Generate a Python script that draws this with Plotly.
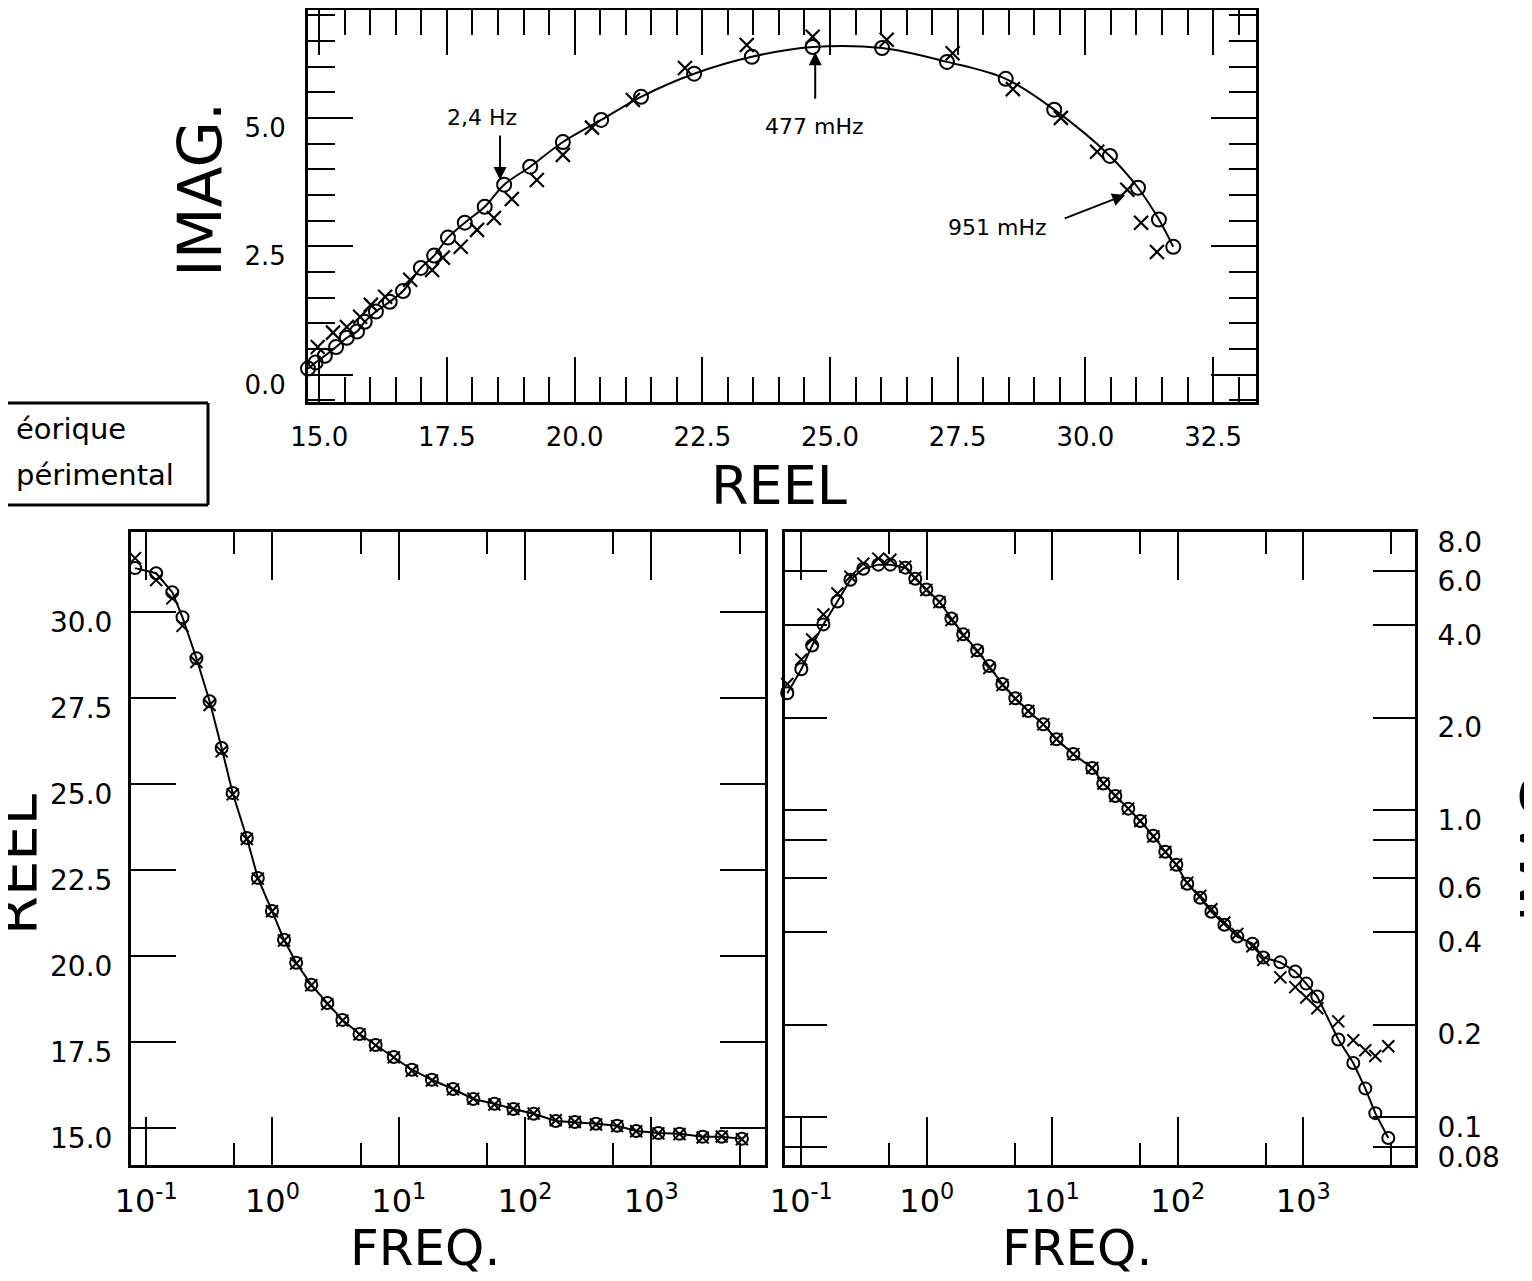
import plotly.graph_objects as go

# ---------------- data ----------------
# Top panel: Nyquist plot (REEL vs IMAG.)
re_nyq_theo = [14.78, 14.93, 15.11, 15.33, 15.54, 15.74, 15.89, 16.11, 16.38, 16.64, 16.99, 17.25,
               17.52, 17.85, 18.24, 18.62, 19.13, 19.77, 20.52, 21.30, 22.34, 23.47, 24.66, 26.02,
               27.29, 28.44, 29.39, 30.48, 31.03, 31.44, 31.72]
im_nyq_theo = [0.12, 0.24, 0.37, 0.54, 0.72, 0.84, 1.03, 1.23, 1.42, 1.63, 2.08, 2.32,
               2.67, 2.96, 3.27, 3.70, 4.05, 4.53, 4.96, 5.41, 5.86, 6.19, 6.38, 6.36,
               6.09, 5.76, 5.16, 4.26, 3.64, 3.02, 2.49]
re_nyq_exp = [14.97, 15.27, 15.54, 15.80, 16.01, 16.29, 16.78, 17.21, 17.42, 17.77, 18.09, 18.42,
              18.77, 19.26, 19.77, 20.34, 21.14, 22.16, 23.37, 24.66, 26.11, 27.40, 28.58, 29.52,
              30.23, 30.82, 31.09, 31.40]
im_nyq_exp = [0.54, 0.82, 0.93, 1.13, 1.36, 1.52, 1.85, 2.04, 2.28, 2.49, 2.82, 3.05,
              3.42, 3.79, 4.28, 4.81, 5.35, 5.97, 6.42, 6.58, 6.52, 6.26, 5.56, 5.00,
              4.34, 3.60, 2.96, 2.39]

# Bottom-left panel: REEL vs FREQ.
freq_re = [0.0817, 0.120, 0.161, 0.194, 0.250, 0.318, 0.396, 0.484, 0.627, 0.766, 0.991, 1.235,
           1.54, 2.03, 2.72, 3.58, 4.89, 6.56, 9.13, 12.7, 18.3, 26.9, 38.9, 57.2,
           80.9, 117, 175, 248, 365, 536, 759, 1137, 1672, 2548, 3611, 5212]
re_theo = [31.28, 31.13, 30.58, 29.85, 28.66, 27.41, 26.05, 24.74, 23.43, 22.27, 21.31, 20.47,
           19.80, 19.16, 18.63, 18.14, 17.73, 17.41, 17.06, 16.69, 16.40, 16.13, 15.84, 15.70,
           15.55, 15.41, 15.20, 15.17, 15.12, 15.06, 14.91, 14.85, 14.83, 14.74, 14.74, 14.68]
re_exp = [31.57, 30.93, 30.40, 29.60, 28.55, 27.30, 25.95, 24.70, 23.40, 22.25, 21.30, 20.45,
          19.78, 19.15, 18.60, 18.12, 17.72, 17.40, 17.05, 16.66, 16.38, 16.12, 15.85, 15.68,
          15.55, 15.42, 15.22, 15.17, 15.10, 15.05, 14.90, 14.84, 14.82, 14.72, 14.75, 14.67]

# Bottom-right panel: IMAG. vs FREQ. (log-log)
freq_im = [0.0773, 0.100, 0.122, 0.150, 0.194, 0.246, 0.312, 0.411, 0.512, 0.674, 0.809, 0.991,
           1.26, 1.57, 1.95, 2.52, 3.15, 4.00, 5.07, 6.44, 8.48, 10.8, 14.7, 20.8,
           25.5, 31.8, 40.3, 50.2, 63.8, 79.5, 97.3, 119, 151, 185, 235, 298,
           393, 480, 656, 863, 1056, 1293, 1901, 2502, 3118, 3747, 4756]
im_theo = [2.40, 2.87, 3.43, 4.02, 4.77, 5.62, 6.10, 6.29, 6.29, 6.15, 5.66, 5.22,
           4.77, 4.20, 3.73, 3.31, 2.94, 2.57, 2.31, 2.10, 1.90, 1.70, 1.52, 1.37,
           1.22, 1.11, 1.01, 0.921, 0.824, 0.731, 0.663, 0.575, 0.518, 0.466, 0.423, 0.387,
           0.367, 0.331, 0.319, 0.298, 0.272, 0.247, 0.179, 0.150, 0.124, 0.103, 0.0855]
im_exp = [2.57, 3.09, 3.59, 4.33, 5.07, 5.75, 6.34, 6.58, 6.53, 6.20, 5.70, 5.20,
          4.75, 4.15, 3.70, 3.28, 2.90, 2.55, 2.30, 2.10, 1.90, 1.70, 1.52, 1.37,
          1.22, 1.11, 1.01, 0.92, 0.82, 0.73, 0.665, 0.58, 0.525, 0.475, 0.43, 0.395,
          0.36, 0.325, 0.285, 0.265, 0.245, 0.226, 0.205, 0.178, 0.165, 0.158, 0.170]

# Tick labels
nyq_x_ticks = [15.0, 17.5, 20.0, 22.5, 25.0, 27.5, 30.0, 32.5]
nyq_x_text = ["15.0", "17.5", "20.0", "22.5", "25.0", "27.5", "30.0", "32.5"]
nyq_y_ticks = [0.0, 2.5, 5.0]
nyq_y_text = ["0.0", "2.5", "5.0"]
freq_ticks = [0.1, 1, 10, 100, 1000]
freq_text = ["10<sup>-1</sup>", "10<sup>0</sup>", "10<sup>1</sup>", "10<sup>2</sup>", "10<sup>3</sup>"]
freq_minor = [0.05, 0.5, 5, 50, 500, 5000]
re_ticks = [15.0, 17.5, 20.0, 22.5, 25.0, 27.5, 30.0]
re_text = ["15.0", "17.5", "20.0", "22.5", "25.0", "27.5", "30.0"]
im_ticks = [0.08, 0.1, 0.2, 0.4, 0.6, 0.8, 1.0, 2.0, 4.0, 6.0, 8.0]
im_text = ["0.08", "0.1", "0.2", "0.4", "0.6", "", "1.0", "2.0", "4.0", "6.0", "8.0"]

# ---------------- figure ----------------
OFF = 8                      # page body margin
W, H = 1532 - OFF, 1281 - OFF
FONT = "DejaVu Sans"


def fx(p):
    return (p - OFF) / W


def fy(p):
    return 1 - (p - OFF) / H


line_style = dict(color="black", width=2)
circ = dict(symbol="circle-open", size=14, color="black", line=dict(color="black", width=2))
cross = dict(symbol="x-thin-open", size=14, color="black", line=dict(color="black", width=2.2))
circ_s = dict(symbol="circle-open", size=12, color="black", line=dict(color="black", width=2))
cross_s = dict(symbol="x-thin-open", size=12, color="black", line=dict(color="black", width=2))

fig = go.Figure()
fig.add_trace(go.Scatter(x=re_nyq_theo, y=im_nyq_theo, mode="lines+markers",
                         line=dict(color="black", width=2, shape="spline"),
                         marker=circ, xaxis="x", yaxis="y", cliponaxis=False, showlegend=False))
fig.add_trace(go.Scatter(x=re_nyq_exp, y=im_nyq_exp, mode="markers", marker=cross,
                         xaxis="x", yaxis="y", cliponaxis=False, showlegend=False))
fig.add_trace(go.Scatter(x=freq_re, y=re_theo, mode="lines+markers", line=line_style, marker=circ_s,
                         xaxis="x2", yaxis="y2", cliponaxis=False, showlegend=False))
fig.add_trace(go.Scatter(x=freq_re, y=re_exp, mode="markers", marker=cross_s,
                         xaxis="x2", yaxis="y2", cliponaxis=False, showlegend=False))
fig.add_trace(go.Scatter(x=freq_im, y=im_theo, mode="lines+markers", line=line_style, marker=circ_s,
                         xaxis="x3", yaxis="y3", cliponaxis=False, showlegend=False))
fig.add_trace(go.Scatter(x=freq_im, y=im_exp, mode="markers", marker=cross_s,
                         xaxis="x3", yaxis="y3", cliponaxis=False, showlegend=False))

common = dict(showline=True, linecolor="black", linewidth=3, mirror="allticks", ticks="inside",
              tickcolor="black", tickwidth=2, showgrid=False, zeroline=False, automargin=False,
              tickmode="array")
minor_style = dict(ticks="inside", tickwidth=2, tickcolor="black", showgrid=False)

fig.update_layout(
    width=W, height=H, margin=dict(l=0, r=0, t=0, b=0),
    paper_bgcolor="white", plot_bgcolor="white",
    font=dict(family=FONT, color="black"),
    xaxis=dict(domain=[fx(308), fx(1256)], anchor="y", range=[14.78, 33.34],
               tickvals=nyq_x_ticks, ticktext=nyq_x_text, ticklen=45,
               minor=dict(dtick=0.5, tick0=0, ticklen=25, **minor_style),
               tickfont=dict(size=26), ticklabelstandoff=10, **common),
    yaxis=dict(domain=[fy(402), fy(10)], anchor="x", range=[-0.53, 7.10],
               tickvals=nyq_y_ticks, ticktext=nyq_y_text, ticklen=45,
               minor=dict(dtick=0.5, tick0=0, ticklen=27, **minor_style),
               tickfont=dict(size=26), ticklabelstandoff=14, ticklabelshift=10, **common),
    xaxis2=dict(domain=[fx(131), fx(765)], anchor="y2", type="log", range=[-1.12, 3.9],
                tickvals=freq_ticks, ticktext=freq_text, ticklen=48,
                minor=dict(tickmode="array", tickvals=freq_minor, ticklen=22, **minor_style),
                tickfont=dict(size=32), ticklabelstandoff=6, **common),
    yaxis2=dict(domain=[fy(1165), fy(532)], anchor="x2", range=[13.92, 32.33],
                tickvals=re_ticks, ticktext=re_text, ticklen=45,
                tickfont=dict(size=28), ticklabelstandoff=10, ticklabelshift=10, **common),
    xaxis3=dict(domain=[fx(785), fx(1415)], anchor="y3", type="log", range=[-1.13, 3.89],
                tickvals=freq_ticks, ticktext=freq_text, ticklen=48,
                minor=dict(tickmode="array", tickvals=freq_minor, ticklen=22, **minor_style),
                tickfont=dict(size=32), ticklabelstandoff=6, **common),
    yaxis3=dict(domain=[fy(1165), fy(532)], anchor="x3", type="log", range=[-1.156, 0.905],
                side="right", tickvals=im_ticks, ticktext=im_text, ticklen=42,
                tickfont=dict(size=28), ticklabelstandoff=14, ticklabelshift=10, **common),
)


def label(text, x, y, size, angle=0, xanchor="center"):
    return dict(text=text, x=fx(x), y=fy(y), xref="paper", yref="paper", textangle=angle,
                showarrow=False, font=dict(size=size), xanchor=xanchor, yanchor="middle")


ann = []
# axis titles
ann.append(label("IMAG.", 200, 190, 60, -90))
ann.append(label("REEL", 779, 485, 54))
ann.append(label("FREQ.", 425, 1248, 50))
ann.append(label("FREQ.", 1077, 1248, 50))
ann.append(label("REEL", 16, 865, 56, -90))
ann.append(label("IMAG.", 1540, 840, 56, -90))
# frequency markers on the Nyquist plot
ann.append(label("2,4 Hz", 482, 117, 22))
ann.append(dict(text="", x=18.54, y=3.79, xref="x", yref="y", ax=0, ay=-46,
                showarrow=True, arrowhead=2, arrowsize=1.3, arrowwidth=2, arrowcolor="black"))
ann.append(label("477 mHz", 815, 127, 22))
ann.append(dict(text="", x=24.71, y=6.28, xref="x", yref="y", ax=0, ay=48,
                showarrow=True, arrowhead=2, arrowsize=1.3, arrowwidth=2, arrowcolor="black"))
ann.append(label("951 mHz", 998, 228, 22))
ann.append(dict(text="", x=30.78, y=3.50, xref="x", yref="y", ax=-62, ay=24,
                showarrow=True, arrowhead=2, arrowsize=1.3, arrowwidth=2, arrowcolor="black"))
# legend box text (cut at the left edge)
ann.append(label("éorique", 14, 429, 29, xanchor="left"))
ann.append(label("périmental", 14, 475, 29, xanchor="left"))
fig.update_layout(annotations=ann)

shapes = []
# legend box (top, right, bottom edges)
for (x0, y0, x1, y1) in [(8, 403, 208, 403), (208, 403, 208, 505), (8, 505, 208, 505)]:
    shapes.append(dict(type="line", xref="paper", yref="paper", x0=fx(x0), y0=fy(y0), x1=fx(x1), y1=fy(y1),
                       line=dict(color="black", width=3)))
# faint scan-edge lines at the right border
for (y0, y1) in [(95, 140), (335, 380), (440, 485), (545, 600), (650, 730), (763, 1010), (1060, 1150), (1180, 1250)]:
    shapes.append(dict(type="line", xref="paper", yref="paper", x0=fx(1526), y0=fy(y0), x1=fx(1526), y1=fy(y1),
                       line=dict(color="#b8b8b8", width=2)))
fig.update_layout(shapes=shapes)

fig.write_html("out.html")
